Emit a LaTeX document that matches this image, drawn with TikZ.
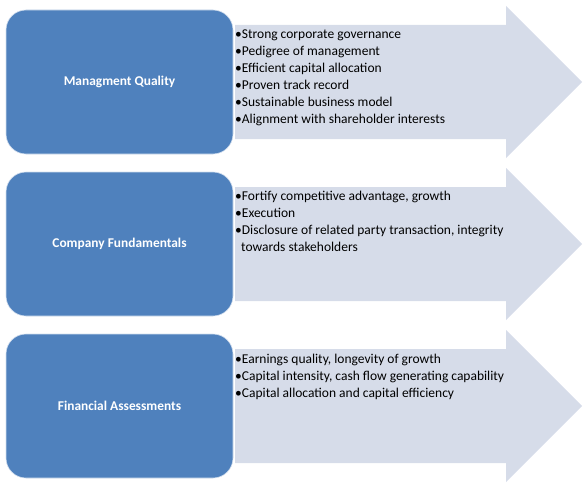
\documentclass[tikz,border=0pt]{standalone}
\usepackage{fontspec}
\setmainfont{Carlito}
\usetikzlibrary{positioning}
\definecolor{boxblue}{HTML}{4F81BD}
\definecolor{bandfill}{HTML}{D6DCE9}

\begin{document}
\begin{tikzpicture}[x=1pt, y=-1pt,
    topic/.style={rounded corners=20pt, fill=boxblue, draw=white!75!boxblue, line width=0.6pt,
      minimum width=227pt, minimum height=144pt, text=white, font=\fontsize{13.4}{15}\selectfont\bfseries},
    band/.style={fill=bandfill},
    points/.style={anchor=north west, align=left, inner sep=0pt, font=\fontsize{13.5}{17}\selectfont}
  ]
  \useasboundingbox (0,0) rectangle (588,492);

  % -- 1. ARROW BANDS (one per row, centre height) --
  \foreach \yc in {82,244,406} {
    \fill[band] (235,\yc-57) -- (506,\yc-57) -- (506,\yc-76) -- (582,\yc)
      -- (506,\yc+76) -- (506,\yc+57) -- (235,\yc+57) -- cycle;
  }

  % -- 2. TOPIC BOXES --
  \node[topic] (mgmt) at (119.5,82) {Managment Quality};
  \node[topic] (fund) at (119.5,244) {Company Fundamentals};
  \node[topic] (fin)  at (119.5,406) {Financial Assessments};

  % -- 3. BULLET LISTS --
  \node[points] (mgmtpts) at (235,30) {
    •Strong corporate governance\\
    •Pedigree of management\\
    •Efficient capital allocation\\
    •Proven track record\\
    •Sustainable business model\\
    •Alignment with shareholder interests
  };
  \node[points] (fundpts) at (235,191) {
    •Fortify competitive advantage, growth\\
    •Execution\\
    •Disclosure of related party transaction, integrity\\
    \hspace*{6pt}towards stakeholders
  };
  \node[points] (finpts) at (235,354) {
    •Earnings quality, longevity of growth\\
    •Capital intensity, cash flow generating capability\\
    •Capital allocation and capital efficiency
  };
\end{tikzpicture}
\end{document}
